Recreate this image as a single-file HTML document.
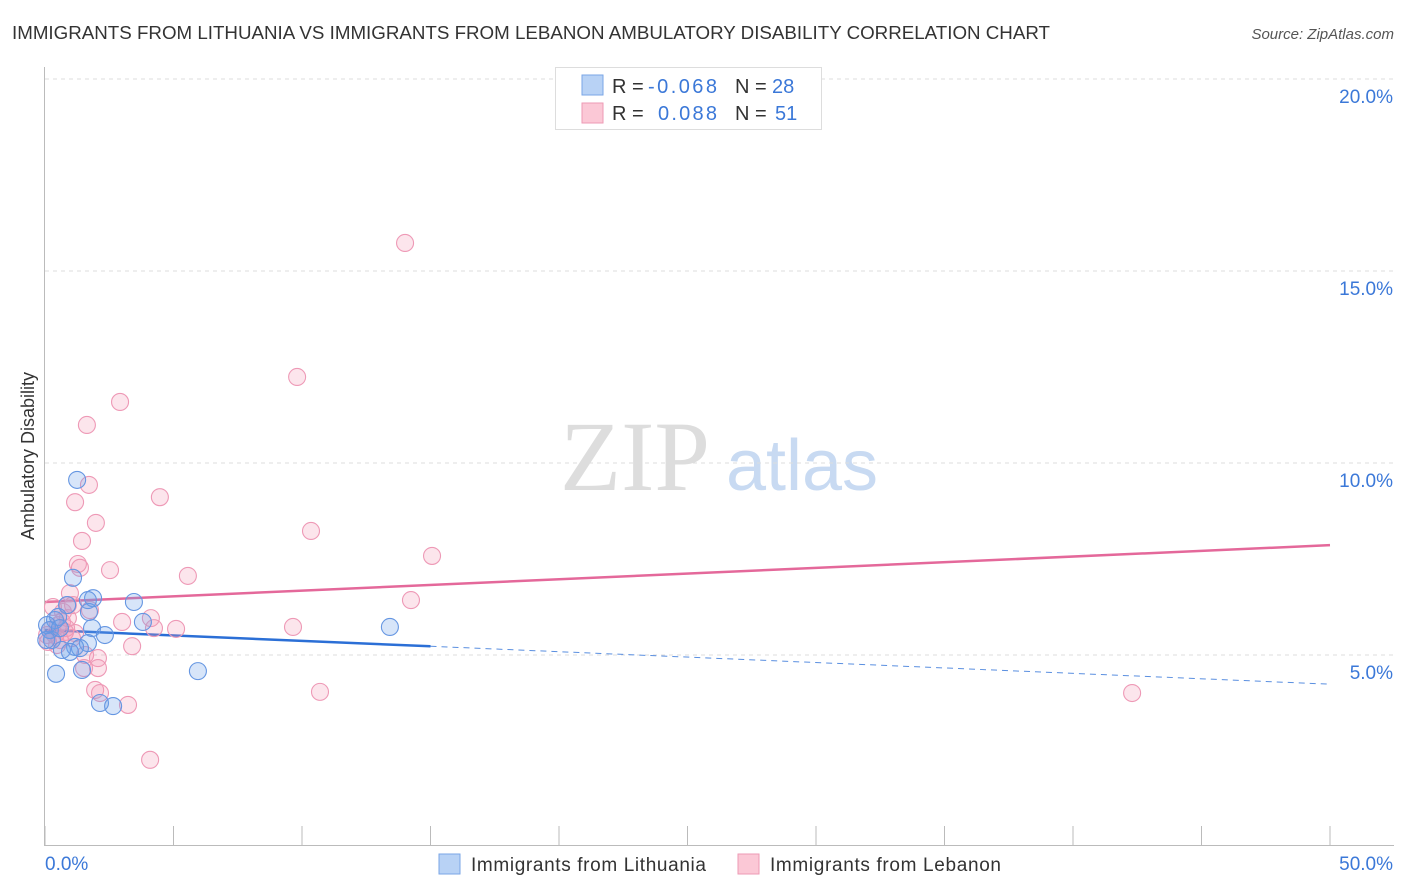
<!DOCTYPE html>
<html><head><meta charset="utf-8"><style>
body{margin:0;background:#fff;font-family:"Liberation Sans",sans-serif;}
svg{display:block}
</style></head><body>
<svg id="chart" width="1406" height="892">
<text x="12" y="39" font-size="18" fill="#333" textLength="1038" lengthAdjust="spacingAndGlyphs">IMMIGRANTS FROM LITHUANIA VS IMMIGRANTS FROM LEBANON AMBULATORY DISABILITY CORRELATION CHART</text>
<text x="1394" y="39" font-size="15" fill="#555" font-style="italic" text-anchor="end">Source: ZipAtlas.com</text>
<text x="34" y="456" font-size="18" fill="#333" text-anchor="middle" transform="rotate(-90 34 456)">Ambulatory Disability</text>
<g><text x="635" y="490" font-size="100" fill="#ddd" font-family="Liberation Serif,serif" text-anchor="middle">ZIP</text><text x="802" y="490" font-size="72" fill="#c8daf2" text-anchor="middle">atlas</text></g>
<g id="grid"></g><g id="axes"></g><g id="lines"></g><g id="pts"></g>
<g>
<rect x="555.5" y="67.5" width="266" height="62" fill="#fff" stroke="#ddd"/>
<rect x="582" y="75" width="21" height="20" fill="#b8d2f5" stroke="#7aa6e6"/>
<rect x="582" y="103" width="21" height="20" fill="#fbc8d6" stroke="#ee9ab4"/>
<text x="612" y="93" font-size="20" fill="#333">R = </text><text x="648" y="93" font-size="20" fill="#3b78d8" textLength="69">-0.068</text>
<text x="735" y="93" font-size="20" fill="#333">N = </text><text x="772" y="93" font-size="20" fill="#3b78d8">28</text>
<text x="612" y="120" font-size="20" fill="#333">R = </text><text x="658" y="120" font-size="20" fill="#3b78d8" textLength="59">0.088</text>
<text x="735" y="120" font-size="20" fill="#333">N = </text><text x="775" y="120" font-size="20" fill="#3b78d8">51</text>
</g>
<g>
<rect x="439" y="854" width="21" height="20" fill="#b8d2f5" stroke="#7aa6e6"/>
<text x="471" y="871" font-size="19" fill="#333" textLength="235">Immigrants from Lithuania</text>
<rect x="738" y="854" width="21" height="20" fill="#fbc8d6" stroke="#ee9ab4"/>
<text x="770" y="871" font-size="19" fill="#333" textLength="231">Immigrants from Lebanon</text>
</g>
</svg>
<script>
const yTicks=[5,10,15,20];
const yTickLabels=["5.0%","10.0%","15.0%","20.0%"];
const xTickLabels=["0.0%","50.0%"];
const lithX=[1.25,1.09,0.86,1.87,1.67,3.46,3.81,1.71,1.83,2.33,0.39,0.51,0.19,0.27,1.67,1.17,0.66,1.36,0.97,1.44,0.43,5.95,2.14,2.65,13.42,0.08,0.05,0.58];
const lithY=[9.56,7.01,6.30,6.48,6.43,6.38,5.86,6.12,5.70,5.52,5.91,5.99,5.65,5.39,5.31,5.21,5.13,5.18,5.08,4.61,4.51,4.58,3.75,3.67,5.73,5.78,5.39,5.70];
const lebX=[14.01,9.81,2.92,1.63,1.71,1.17,4.47,1.98,1.44,10.35,15.06,1.28,1.36,2.53,5.56,14.24,0.97,1.09,0.89,1.75,9.65,4.12,3.0,4.24,5.10,3.39,2.06,1.52,2.06,1.95,2.14,3.23,4.09,10.70,42.3,0.19,0.39,0.58,0.78,1.05,0.12,0.51,0.82,0.31,0.66,0.08,0.47,0.89,1.17,1.56,0.70];
const lebY=[15.73,12.24,11.59,10.99,9.43,8.98,9.11,8.44,7.97,8.23,7.58,7.37,7.27,7.21,7.06,6.43,6.61,6.30,6.30,6.17,5.73,5.96,5.86,5.70,5.68,5.23,4.92,4.66,4.66,4.09,4.01,3.70,2.27,4.04,4.01,5.65,5.52,5.39,5.60,5.44,5.34,5.78,5.70,6.25,5.86,5.52,5.26,5.96,5.57,5.0,6.12];
const lithTrend=[5.65,4.24]; // at x=0 and x=50
const lithSolidEnd=15;
const lebTrend=[6.38,7.86];
const NS="http://www.w3.org/2000/svg";
const X=v=>45+v*25.7, Y=v=>847-v*38.4;
function mk(tag,attrs,parent){const e=document.createElementNS(NS,tag);for(const k in attrs)e.setAttribute(k,attrs[k]);document.getElementById(parent).appendChild(e);return e;}
yTicks.forEach((t,i)=>{
 const l=mk('line',{x1:45,x2:1394,y1:Y(t),y2:Y(t),stroke:'#ddd','stroke-dasharray':'4,4'},'grid');
 
 
 const tx=mk('text',{x:1393,y:Y(t)+24,'font-size':19,fill:'#3b78d8','text-anchor':'end'},'grid');tx.textContent=yTickLabels[i];
 
 
});
const ax=mk('line',{x1:44.5,x2:44.5,y1:67,y2:846,stroke:'#bbb'},'axes');


const bx=mk('line',{x1:45,x2:1394,y1:845.5,y2:845.5,stroke:'#bbb'},'axes');


for(let i=0;i<=10;i++){const t=mk('line',{x1:X(i*5),x2:X(i*5),y1:826,y2:846,stroke:'#bbb'},'axes');
 
 }
[[0,'start',45],[50,'end',1393]].forEach((a,i)=>{const t=mk('text',{x:a[2],y:870,'font-size':19,fill:'#3b78d8','text-anchor':a[1]},'axes');t.textContent=xTickLabels[i];
 
 });
function pt(xs,ys,fill,stroke,name){xs.forEach((x,i)=>{const c=mk('circle',{cx:X(x),cy:Y(ys[i]),r:8.5,fill:fill,stroke:stroke,'stroke-width':1.1},'pts');
 
 });}
pt(lebX,lebY,'rgba(245,150,180,0.25)','#ee99b6','point-lebanon');
pt(lithX,lithY,'rgba(110,160,235,0.28)','#6596e2','point-lithuania');
const at=(tr,x)=>tr[0]+(tr[1]-tr[0])*x/50;
const l1=mk('line',{x1:X(0),y1:Y(lebTrend[0]),x2:X(50),y2:Y(lebTrend[1]),stroke:'#e4689a','stroke-width':2.5},'lines');


const l2=mk('line',{x1:X(0),y1:Y(lithTrend[0]),x2:X(lithSolidEnd),y2:Y(at(lithTrend,lithSolidEnd)),stroke:'#2b6fd6','stroke-width':2.5},'lines');


const l3=mk('line',{x1:X(lithSolidEnd),y1:Y(at(lithTrend,lithSolidEnd)),x2:X(50),y2:Y(lithTrend[1]),stroke:'#5a8fe0','stroke-width':1,'stroke-dasharray':'6,5'},'lines');


</script>
</body></html>
